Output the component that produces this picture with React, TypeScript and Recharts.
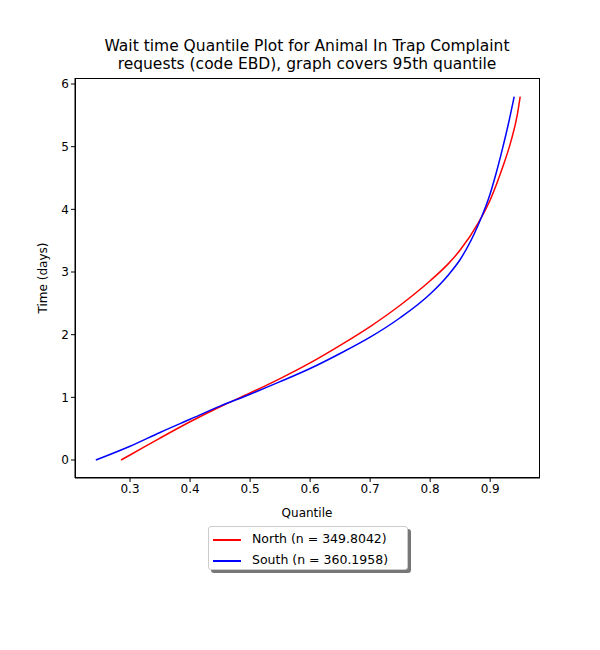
import { LineChart, Line, XAxis, YAxis } from 'recharts';

const northQ = [0.285, 0.3, 0.35, 0.4, 0.45, 0.5, 0.55, 0.6, 0.65, 0.7, 0.75, 0.8, 0.83, 0.85, 0.88, 0.9, 0.92, 0.935, 0.945, 0.95];
const northT = [0, 0.08, 0.35, 0.61, 0.85, 1.07, 1.3, 1.55, 1.83, 2.13, 2.47, 2.86, 3.13, 3.35, 3.78, 4.15, 4.65, 5.1, 5.5, 5.8];
const southQ = [0.243, 0.3, 0.35, 0.4, 0.45, 0.5, 0.55, 0.6, 0.65, 0.7, 0.75, 0.8, 0.83, 0.85, 0.88, 0.9, 0.91, 0.92, 0.93, 0.94];
const southT = [0, 0.22, 0.44, 0.65, 0.86, 1.05, 1.25, 1.46, 1.7, 1.96, 2.27, 2.65, 2.95, 3.2, 3.75, 4.25, 4.58, 4.95, 5.35, 5.8];
const xTicks = [0.3, 0.4, 0.5, 0.6, 0.7, 0.8, 0.9];
const yTicks = [0, 1, 2, 3, 4, 5, 6];

const north = northQ.map((q, i) => ({ q, t: northT[i] }));
const south = southQ.map((q, i) => ({ q, t: southT[i] }));

const font = 'DejaVu Sans, sans-serif';
const tick = { fill: '#000', fontSize: 12, fontFamily: font };

export default function App() {
  return (
    <div style={{ position: 'absolute', left: 0, top: 0, width: 600, height: 650, background: '#fff', fontFamily: font }}>
      <LineChart width={600} height={650} margin={{ top: 78, left: 35, right: 60, bottom: 142 }}>
        <XAxis type="number" dataKey="q" domain={[0.2083, 0.983]} ticks={xTicks} allowDataOverflow
          tick={tick} tickFormatter={(v) => v.toFixed(1)} axisLine={{ stroke: '#000' }} tickLine={{ stroke: '#000' }} tickSize={4} height={30} />
        <YAxis type="number" dataKey="t" domain={[-0.287, 6.096]} ticks={yTicks} allowDataOverflow
          tick={tick} axisLine={{ stroke: '#000' }} tickLine={{ stroke: '#000' }} tickSize={4} width={40} />
        <Line type="monotone" data={north} dataKey="t" stroke="red" strokeWidth={1.5} dot={false} isAnimationActive={false} />
        <Line type="monotone" data={south} dataKey="t" stroke="blue" strokeWidth={1.5} dot={false} isAnimationActive={false} />
      </LineChart>
      <div style={{ position: 'absolute', left: 75, top: 78, width: 465, height: 400, border: '1px solid #000', boxSizing: 'border-box', pointerEvents: 'none' }} />
      <div style={{ position: 'absolute', left: 0, width: 614, top: 37, textAlign: 'center', fontSize: 15.5, lineHeight: '18px' }}>
        Wait time Quantile Plot for Animal In Trap Complaint<br />requests (code EBD), graph covers 95th quantile
      </div>
      <div style={{ position: 'absolute', left: 0, width: 614, top: 506, textAlign: 'center', fontSize: 12 }}>Quantile</div>
      <div style={{ position: 'absolute', left: 43, top: 278, fontSize: 12, transform: 'translate(-50%,-50%) rotate(-90deg)', whiteSpace: 'nowrap' }}>Time (days)</div>
      <div style={{ position: 'absolute', left: 208, top: 526, width: 200, height: 44, border: '1px solid #ccc', borderRadius: 3, background: '#fff', boxShadow: '3px 3px 0 #777', fontSize: 12.5, boxSizing: 'border-box', padding: '1px 0 0 4px', lineHeight: '21px' }}>
        <div><span style={{ display: 'inline-block', width: 28, borderTop: '2px solid red', verticalAlign: 'middle', marginRight: 11 }} />North (n = 349.8042)</div>
        <div><span style={{ display: 'inline-block', width: 28, borderTop: '2px solid blue', verticalAlign: 'middle', marginRight: 11 }} />South (n = 360.1958)</div>
      </div>
    </div>
  );
}
